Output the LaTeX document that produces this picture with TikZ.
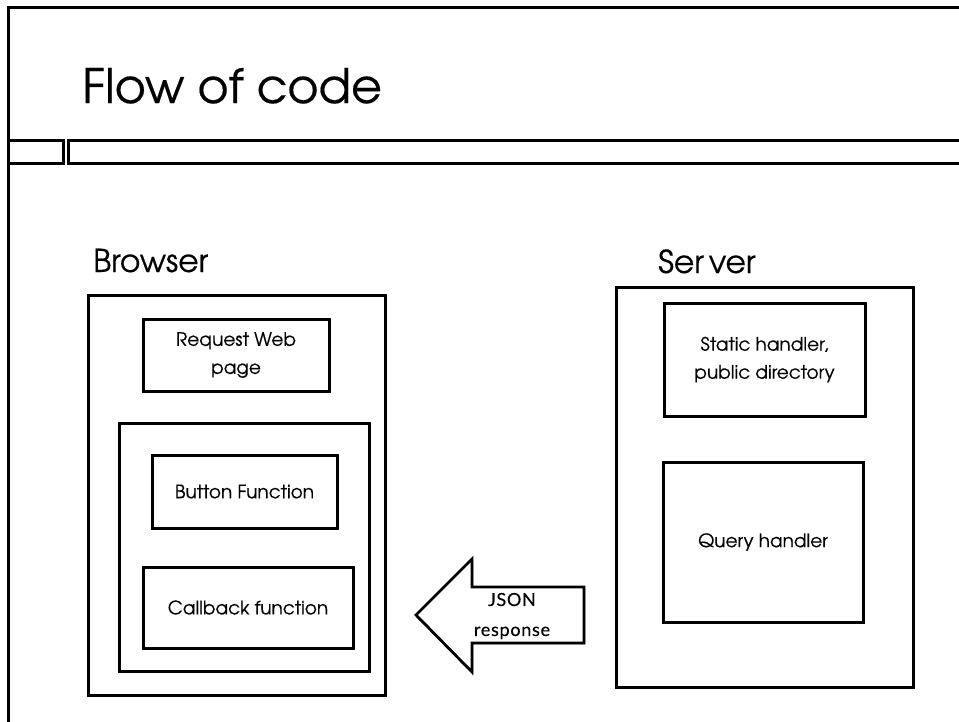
\documentclass[tikz,border=0pt]{standalone}
\usepackage{fontspec}
\setmainfont[FakeBold=0.4]{TeX Gyre Adventor}
\newfontfamily\gillfont[FakeBold=0.3, LetterSpace=4]{Lato}
\usetikzlibrary{shadows}
\tikzset{
  frameline/.style={line width=3pt, black},
  box/.style={draw, line width=3pt, fill=white, align=center, inner sep=0pt,
    font=\fontsize{18.5}{28}\selectfont,
    drop shadow={shadow xshift=1.6pt, shadow yshift=-1.8pt, opacity=0.35}},
  plainbox/.style={draw, line width=3pt, fill=white, inner sep=0pt,
    drop shadow={shadow xshift=1.6pt, shadow yshift=-1.8pt, opacity=0.35}},
  heading/.style={anchor=base west, inner sep=0pt, font=\fontsize{31.5}{34}\selectfont},
}
\begin{document}
\begin{tikzpicture}[x=1pt,y=-1pt]
\useasboundingbox (0,0) rectangle (959,721);
\clip (0,0) rectangle (959,721);
% slide frame
\draw[frameline] (8,730) -- (8,7) -- (970,7);
\draw[frameline] (8,140) rectangle (63,163);
\draw[frameline] (68,140) rectangle (975,163);
\node[anchor=base west, inner sep=0pt, font=\fontsize{47.5}{50}\selectfont] (title) at (82,103) {Flow of code};

% headings
\node[heading] (browserlbl) at (93,272) {Browser};
\node[heading] (serverlbl) at (658,273) {Ser\kern5pt ver};

% browser
\node[plainbox, minimum width=297pt, minimum height=400pt] (browser) at (236.5,495) {};
\node[box, minimum width=186pt, minimum height=72pt] (request) at (236,355) {Request Web\\page};
\node[plainbox, minimum width=250pt, minimum height=248pt] (inner) at (244,547) {};
\node[box, minimum width=185pt, minimum height=73pt] (button) at (244.5,491.5) {Button Function};
\node[box, minimum width=210pt, minimum height=81pt] (callback) at (248,607.5) {Callback function};

% server
\node[plainbox, minimum width=297pt, minimum height=400pt] (server) at (764.5,487) {};
\node[box, minimum width=201pt, minimum height=113pt] (static) at (764.5,359.5) {Static handler,\\public directory};
\node[box, minimum width=200pt, minimum height=160pt] (query) at (763,542) {Query handler};

% JSON response arrow
\draw[line width=2.8pt, fill=white, line join=miter,
      drop shadow={shadow xshift=1.6pt, shadow yshift=-1.8pt, opacity=0.35}]
  (416,615) -- (472,559) -- (472,587) -- (584,587) -- (584,643) -- (472,643) -- (472,672) -- cycle;
\node[align=center, inner sep=0pt, font=\gillfont\fontsize{18}{30}\selectfont] (json) at (512,616) {JSON\\response};
\end{tikzpicture}
\end{document}
